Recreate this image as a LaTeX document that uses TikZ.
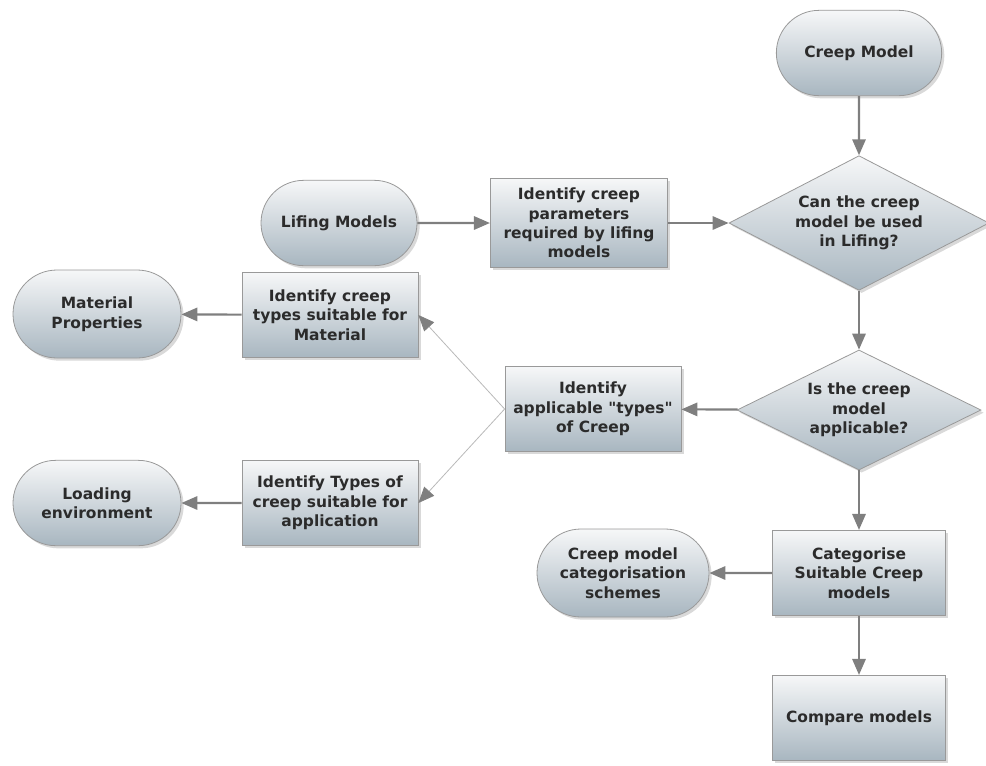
\documentclass[tikz,border=0pt]{standalone}
\usepackage{fontspec}
\setmainfont{DejaVu Sans}
\usetikzlibrary{arrows.meta,shapes.geometric,shapes.misc,shadows}
\definecolor{boxtop}{HTML}{F6F7F8}
\definecolor{boxbot}{HTML}{A8B6C0}
\definecolor{edge}{HTML}{7F7F7F}
\definecolor{txt}{HTML}{2B2B2B}
\tikzset{
	base/.style={draw=edge!80,line width=.6pt,top color=boxtop,bottom color=boxbot,
		drop shadow={opacity=.3,shadow xshift=2pt,shadow yshift=-2pt},
		align=center,text=txt,font=\fontsize{11.6}{14.6}\selectfont\bfseries,inner sep=2pt},
	proc/.style={base,rectangle,minimum width=132pt,minimum height=64pt},
	term/.style={base,rounded rectangle,minimum width=128pt,minimum height=64pt},
	dec/.style={base,diamond,aspect=2,inner sep=0pt},
	flow/.style={draw=edge,line width=1.6pt,-{Triangle[length=12pt,width=10pt]}},
	thinflow/.style={draw=edge!55,line width=.6pt,-{Triangle[length=12pt,width=10pt,color=edge]}}
}
\begin{document}
\begin{tikzpicture}[x=.75pt,y=-.75pt]
	\useasboundingbox(0,0) rectangle (986,765);
	\def\col{859}
	% right column
	\node[term] (cm) at (\col,53) {Creep Model};
	\node[dec,minimum width=195pt,minimum height=101pt] (d1) at (\col,223) {Can the creep\\model be used\\in Lifing?};
	\node[dec,minimum width=183pt,minimum height=90pt] (d2) at (\col,410) {Is the creep\\model\\applicable?};
	\node[proc,minimum width=130pt] (cat) at (\col,573) {Categorise\\Suitable Creep\\models};
	\node[proc,minimum width=130pt] (cmp) at (\col,718) {Compare models};
	% middle
	\node[term,minimum width=121pt] (life) at (339,223) {Lifing Models};
	\node[proc,minimum width=133pt,minimum height=67pt] (param) at (579,223) {Identify creep\\parameters\\required by lifing\\models};
	\node[proc] (applic) at (593,409) {Identify\\applicable \textquotedbl types\textquotedbl\\of Creep};
	\node[term,minimum width=133pt,minimum height=66pt] (sch) at (623,573) {Creep model\\categorisation\\schemes};
	% left
	\node[proc] (matbox) at (330,315) {Identify creep\\types suitable for\\Material};
	\node[proc] (appbox) at (330,503) {Identify Types of\\creep suitable for\\application};
	\node[term,minimum width=130pt,minimum height=66pt] (mat) at (97,314) {Material\\Properties};
	\node[term,minimum width=130pt] (load) at (97,503) {Loading\\environment};
	% connectors
	\foreach \a/\b in {cm/d1,d1/d2,d2/cat,cat/cmp,life/param,param/d1,d2/applic,matbox/mat,appbox/load,cat/sch}\draw[flow](\a)--(\b);
	\foreach \b in {matbox,appbox}\draw[thinflow](applic.west)--(\b.east);
\end{tikzpicture}
\end{document}
